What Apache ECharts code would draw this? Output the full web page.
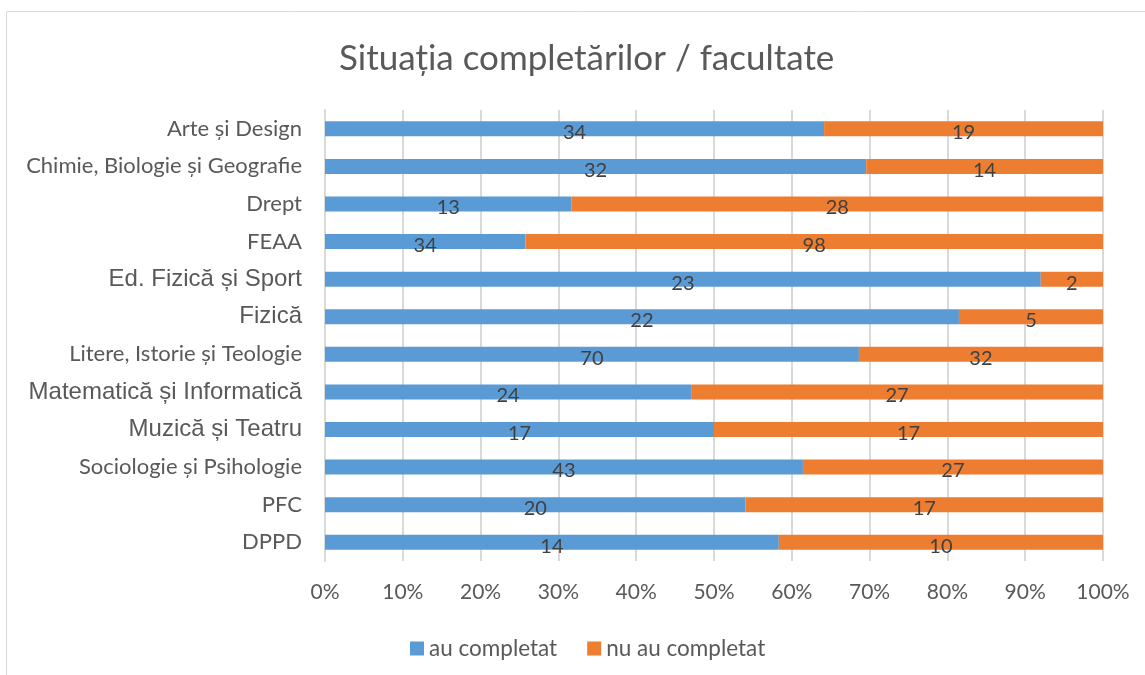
<!DOCTYPE html>
<html>
<head>
<meta charset="utf-8">
<script src="https://cdn.jsdelivr.net/npm/echarts@6/dist/echarts.min.js"></script>
<style>
  html, body { margin: 0; padding: 0; background: #fff; }
  #main { width: 1145px; height: 675px; }
</style>
</head>
<body>
<div id="main"></div>
<script>
// facultati, de sus in jos
var facultati = [
  'Arte și Design',
  'Chimie, Biologie și Geografie',
  'Drept',
  'FEAA',
  'Ed. Fizică și Sport',
  'Fizică',
  'Litere, Istorie și Teologie',
  'Matematică și Informatică',
  'Muzică și Teatru',
  'Sociologie și Psihologie',
  'PFC',
  'DPPD'
];
var auCompletat = [34, 32, 13, 34, 23, 22, 70, 24, 17, 43, 20, 14];
var nuAuCompletat = [19, 14, 28, 98, 2, 5, 32, 27, 17, 27, 17, 10];
// etichetele scrise cu alt font in original
var etichetaArial = ['Ed. Fizică și Sport', 'Fizică', 'Matematică și Informatică', 'Muzică și Teatru'];

function procente(arr) {
  return arr.map(function (v, i) {
    return v / (auCompletat[i] + nuAuCompletat[i]) * 100;
  });
}

var myChart = echarts.init(document.getElementById('main'));

var valLabel = function (raw) {
  return {
    show: true,
    position: 'inside',
    offset: [0, 4],
    color: '#404040',
    fontFamily: 'Lato',
    fontSize: 20,
    formatter: function (p) { return raw[p.dataIndex]; }
  };
};

var option = {
  backgroundColor: '#fff',
  animation: false,
  graphic: [{
    type: 'rect',
    shape: { x: 6.5, y: 11.5, width: 1160, height: 700 },
    style: { fill: 'none', stroke: '#d9d9d9', lineWidth: 1 },
    z: -1
  }],
  title: {
    text: 'Situația completărilor / facultate',
    left: 334,
    top: 36,
    textStyle: { color: '#595959', fontFamily: 'Lato', fontSize: 35, fontWeight: 'normal' }
  },
  legend: {
    top: 632,
    left: 405,
    icon: 'rect',
    itemWidth: 14,
    itemHeight: 14,
    itemGap: 30,
    textStyle: { color: '#595959', fontFamily: 'Lato', fontSize: 22.5 },
    data: ['au completat', 'nu au completat']
  },
  grid: { left: 325, right: 42, top: 110, bottom: 114 },
  xAxis: {
    type: 'value',
    min: 0,
    max: 100,
    interval: 10,
    axisLine: { show: false },
    axisTick: { show: false },
    splitLine: { lineStyle: { color: '#d9d9d9', width: 2 } },
    axisLabel: {
      margin: 21,
      color: '#595959',
      fontFamily: 'Lato',
      fontSize: 21,
      formatter: '{value}%'
    }
  },
  yAxis: {
    type: 'category',
    inverse: true,
    data: facultati,
    axisLine: { lineStyle: { color: '#d9d9d9', width: 2 } },
    axisTick: { show: false },
    axisLabel: {
      margin: 23,
      formatter: function (v) {
        return etichetaArial.indexOf(v) >= 0 ? '{b|' + v + '}' : '{a|' + v + '}';
      },
      rich: {
        a: { color: '#595959', fontFamily: 'Lato', fontSize: 22 },
        b: { color: '#595959', fontFamily: 'Liberation Sans', fontSize: 24 }
      }
    }
  },
  series: [{
    name: 'au completat',
    type: 'bar',
    stack: 'total',
    barWidth: 15,
    itemStyle: { color: '#5b9bd5' },
    label: valLabel(auCompletat),
    data: procente(auCompletat)
  }, {
    name: 'nu au completat',
    type: 'bar',
    stack: 'total',
    barWidth: 15,
    itemStyle: { color: '#ed7d31' },
    label: valLabel(nuAuCompletat),
    data: procente(nuAuCompletat)
  }]
};

myChart.setOption(option);
</script>
</body>
</html>
